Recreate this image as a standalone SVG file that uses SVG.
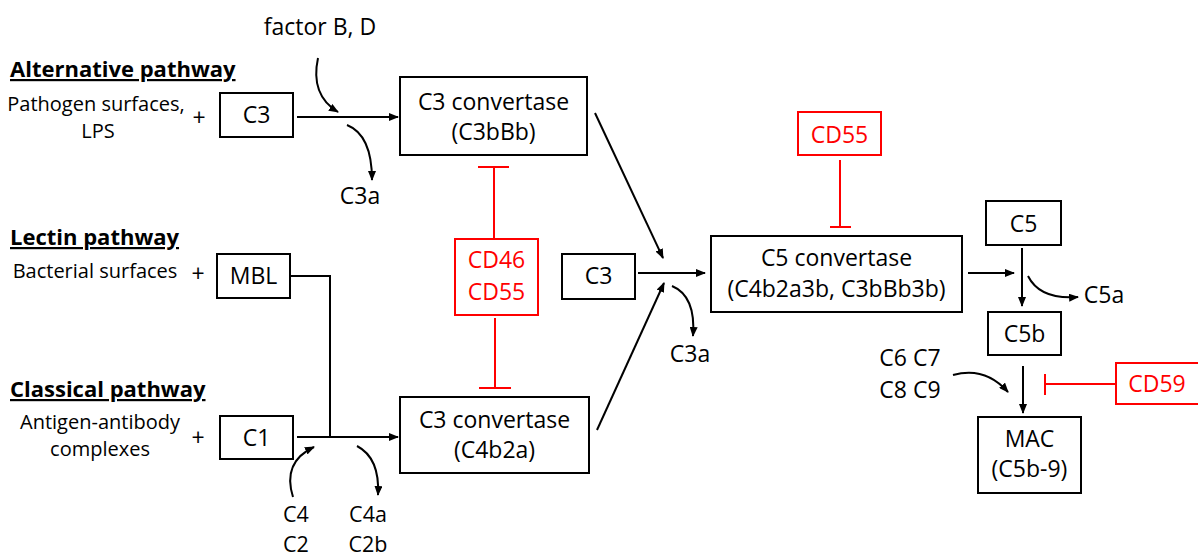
<svg xmlns="http://www.w3.org/2000/svg" width="1198" height="559" viewBox="0 0 1198 559">
<style>
text{font-family:"Open Sans","Liberation Sans",sans-serif;fill:#000}
.t{font-size:23px;text-anchor:middle}
.b{font-size:21.5px;text-anchor:middle}
.s{font-size:20px}
.p{font-size:23px;text-anchor:middle}
.h{font-size:22px;font-weight:bold;text-decoration:underline}
.r{fill:#f00}
.box{fill:#fff;stroke:#000;stroke-width:2}
.rbox{fill:#fff;stroke:#f00;stroke-width:2}
.ln{fill:none;stroke:#000;stroke-width:2}
.rl{fill:none;stroke:#f00;stroke-width:2}
</style>
<defs>
<marker id="a" markerWidth="10" markerHeight="8" refX="9" refY="4" orient="auto" markerUnits="userSpaceOnUse">
<path d="M0,0 L10,4 L0,8 Z" fill="#000"/>
</marker>
</defs>
<rect width="1198" height="559" fill="#fff"/>

<g id="labels">
<text class="h" x="10" y="77">Alternative pathway</text>
<text class="s" x="96" y="111" text-anchor="middle">Pathogen surfaces,</text>
<text class="s" x="98" y="138" text-anchor="middle">LPS</text>
<text class="p" x="199" y="126">+</text>
<text class="t" x="320" y="35">factor B, D</text>
<text class="t" x="360" y="204">C3a</text>
<text class="h" x="10" y="245">Lectin pathway</text>
<text class="s" x="95" y="278" text-anchor="middle">Bacterial surfaces</text>
<text class="p" x="198" y="282">+</text>
<text class="h" x="10" y="397">Classical pathway</text>
<text class="s" x="100" y="429" text-anchor="middle">Antigen-antibody</text>
<text class="s" x="100" y="456" text-anchor="middle">complexes</text>
<text class="p" x="198" y="446">+</text>
<text class="b" x="296" y="522">C4</text>
<text class="b" x="296" y="552">C2</text>
<text class="b" x="368" y="522">C4a</text>
<text class="b" x="368" y="552">C2b</text>
<text class="t" x="690" y="362">C3a</text>
<text class="t" x="1104" y="303">C5a</text>
<text class="t" x="910" y="366">C6 C7</text>
<text class="t" x="910" y="398">C8 C9</text>
</g>

<g id="connectors">
<line class="ln" x1="297" y1="117" x2="398" y2="117" marker-end="url(#a)"/>
<path class="ln" d="M318,58 Q310,95 338,112" marker-end="url(#a)"/>
<path class="ln" d="M347,125 Q372,135 372,180" marker-end="url(#a)"/>
<polyline class="ln" points="290,276 330,276 330,437"/>
<line class="ln" x1="297" y1="437" x2="398" y2="437" marker-end="url(#a)"/>
<path class="ln" d="M293,497 Q282,462 314,447" marker-end="url(#a)"/>
<path class="ln" d="M357,446 Q380,458 378,495" marker-end="url(#a)"/>
<line class="ln" x1="595" y1="113" x2="663" y2="258" marker-end="url(#a)"/>
<line class="ln" x1="597" y1="430" x2="664" y2="283" marker-end="url(#a)"/>
<line class="ln" x1="638" y1="273" x2="705" y2="273" marker-end="url(#a)"/>
<path class="ln" d="M672,286 Q696,296 693,336" marker-end="url(#a)"/>
<line class="ln" x1="968" y1="273" x2="1014" y2="273" marker-end="url(#a)"/>
<line class="ln" x1="1022" y1="248" x2="1022" y2="306" marker-end="url(#a)"/>
<path class="ln" d="M1028,276 Q1040,300 1078,297" marker-end="url(#a)"/>
<line class="ln" x1="1023" y1="366" x2="1023" y2="413" marker-end="url(#a)"/>
<path class="ln" d="M953,375 Q985,366 1008,392" marker-end="url(#a)"/>
<path class="rl" d="M494,239 V167 M478,167 H509"/>
<path class="rl" d="M495,318 V388 M479,388 H511"/>
<path class="rl" d="M840,160 V227 M830,227 H851"/>
<path class="rl" d="M1116,384 H1045 M1045,374 V395"/>
</g>

<g id="alt-c3"><rect class="box" x="220" y="93" width="73" height="44"/><text class="t" x="256.5" y="123">C3</text></g>
<g id="mbl"><rect class="box" x="217" y="254" width="73" height="44"/><text class="t" x="253.5" y="284">MBL</text></g>
<g id="c1"><rect class="box" x="220" y="416" width="73" height="43"/><text class="t" x="256.5" y="446">C1</text></g>
<g id="c3conv-alt"><rect class="box" x="400" y="77" width="187" height="78"/><text class="t" x="493.5" y="110">C3 convertase</text><text class="t" x="493.5" y="140">(C3bBb)</text></g>
<g id="c3conv-cl"><rect class="box" x="400" y="397" width="189" height="76"/><text class="t" x="494.5" y="428">C3 convertase</text><text class="t" x="494.5" y="458">(C4b2a)</text></g>
<g id="cd46"><rect class="rbox" x="455" y="239" width="83" height="76"/><text class="t r" x="496.5" y="268">CD46</text><text class="t r" x="496.5" y="300">CD55</text></g>
<g id="c3-mid"><rect class="box" x="562" y="254" width="73" height="45"/><text class="t" x="598.5" y="284">C3</text></g>
<g id="c5conv"><rect class="box" x="711" y="236" width="251" height="76"/><text class="t" x="836.5" y="266">C5 convertase</text><text class="t" x="836.5" y="297">(C4b2a3b, C3bBb3b)</text></g>
<g id="cd55"><rect class="rbox" x="798" y="112" width="83" height="43"/><text class="t r" x="839.5" y="143">CD55</text></g>
<g id="c5"><rect class="box" x="986" y="201" width="75" height="44"/><text class="t" x="1023.5" y="232">C5</text></g>
<g id="c5b"><rect class="box" x="988" y="312" width="73" height="43"/><text class="t" x="1024.5" y="342">C5b</text></g>
<g id="mac"><rect class="box" x="978" y="417" width="103" height="76"/><text class="t" x="1029.5" y="447">MAC</text><text class="t" x="1029.5" y="477">(C5b-9)</text></g>
<g id="cd59"><rect class="rbox" x="1116" y="363" width="90" height="41"/><text class="t r" x="1157" y="392">CD59</text></g>
</svg>
